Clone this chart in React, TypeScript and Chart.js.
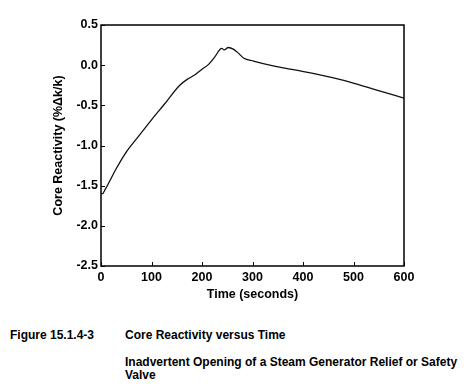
import React, { useEffect, useRef } from "react";
import { Chart, registerables } from "chart.js";

Chart.register(...registerables);

const timeSeconds = [0, 3, 8, 15, 30, 48, 75, 100, 125, 156, 170, 186, 200, 213, 225, 239, 244, 252, 262, 272, 282, 302, 341, 374, 394, 440, 493, 546, 600];
const coreReactivity = [-1.6, -1.6, -1.55, -1.47, -1.29, -1.1, -0.88, -0.68, -0.49, -0.25, -0.18, -0.12, -0.05, 0.01, 0.1, 0.21, 0.19, 0.22, 0.2, 0.15, 0.09, 0.05, -0.01, -0.05, -0.07, -0.13, -0.21, -0.31, -0.41];
const xTicks = [0, 100, 200, 300, 400, 500, 600];
const yTicks = [0.5, 0.0, -0.5, -1.0, -1.5, -2.0, -2.5];

const FONT = "'Liberation Sans', Arial, Helvetica, sans-serif";

const framePlugin = {
  id: "frameAndInnerTicks",
  afterDatasetsDraw(chart: any) {
    const { ctx, chartArea, scales } = chart;
    const { left, right, top, bottom } = chartArea;
    ctx.save();
    ctx.strokeStyle = "#000";
    ctx.lineWidth = 1.5;
    ctx.strokeRect(left, top, right - left, bottom - top);
    ctx.lineWidth = 1;
    const len = 4;
    ctx.beginPath();
    xTicks.forEach((t) => {
      const x = Math.round(scales.x.getPixelForValue(t)) + 0.5;
      ctx.moveTo(x, bottom);
      ctx.lineTo(x, bottom - len);
    });
    yTicks.forEach((t) => {
      const y = Math.round(scales.y.getPixelForValue(t)) + 0.5;
      ctx.moveTo(left, y);
      ctx.lineTo(left + len, y);
    });
    ctx.stroke();
    ctx.restore();
  },
};

export default function App() {
  const ref = useRef<HTMLCanvasElement | null>(null);

  useEffect(() => {
    if (!ref.current) return;
    const chart = new Chart(ref.current, {
      type: "line",
      data: {
        datasets: [
          {
            data: timeSeconds.map((t, i) => ({ x: t, y: coreReactivity[i] })),
            borderColor: "#111",
            borderWidth: 1.3,
            pointRadius: 0,
            cubicInterpolationMode: "monotone",
            fill: false,
          },
        ],
      },
      options: {
        animation: false,
        responsive: false,
        maintainAspectRatio: false,
        layout: { padding: { left: 0, right: 64, top: 25, bottom: 0 } },
        plugins: { legend: { display: false }, tooltip: { enabled: false } },
        scales: {
          x: {
            type: "linear",
            min: 0,
            max: 600,
            afterFit: (s: any) => {
              s.height = 44;
            },
            afterBuildTicks: (s: any) => {
              s.ticks = xTicks.map((v) => ({ value: v }));
            },
            grid: { display: false, drawTicks: false },
            border: { display: false },
            ticks: {
              color: "#000",
              padding: 4,
              maxRotation: 0,
              font: { family: FONT, size: 12.5, weight: "bold" },
            },
            title: {
              display: true,
              text: "Time (seconds)",
              color: "#000",
              font: { family: FONT, size: 12.5, weight: "bold" },
              padding: { top: 8, bottom: 8 },
            },
          },
          y: {
            type: "linear",
            min: -2.5,
            max: 0.5,
            afterFit: (s: any) => {
              s.width = 101;
            },
            afterBuildTicks: (s: any) => {
              s.ticks = yTicks.map((v) => ({ value: v }));
            },
            grid: { display: false, drawTicks: false },
            border: { display: false },
            ticks: {
              color: "#000",
              padding: 3,
              font: { family: FONT, size: 12.5, weight: "bold" },
              callback: (v: any) => Number(v).toFixed(1),
            },
            title: {
              display: true,
              text: "Core Reactivity (%\u0394k/k)",
              color: "#000",
              font: { family: FONT, size: 12.5, weight: "bold" },
              padding: { top: 51, bottom: 51 },
            },
          },
        },
      },
      plugins: [framePlugin],
    });
    return () => chart.destroy();
  }, []);

  const cap: React.CSSProperties = {
    position: "absolute",
    fontFamily: FONT,
    fontSize: 12,
    fontWeight: "bold",
    color: "#000",
    lineHeight: "13px",
    whiteSpace: "nowrap",
  };

  return (
    <div style={{ position: "absolute", left: 0, top: 0, width: 468, height: 389, background: "#fff" }}>
      <canvas ref={ref} width={468} height={310} style={{ position: "absolute", left: 0, top: 0, width: 468, height: 310 }} />
      <div style={{ ...cap, left: 10, top: 329 }}>Figure 15.1.4-3</div>
      <div style={{ ...cap, left: 125, top: 329 }}>Core Reactivity versus Time</div>
      <div style={{ ...cap, left: 125, top: 356 }}>
        Inadvertent Opening of a Steam Generator Relief or Safety
        <br />
        Valve
      </div>
    </div>
  );
}
